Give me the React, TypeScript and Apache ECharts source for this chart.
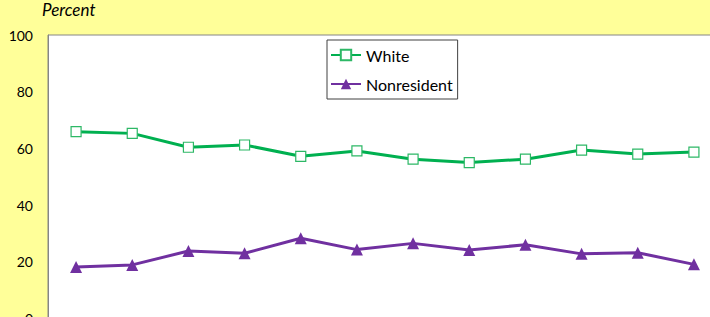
import React, { useEffect, useRef } from "react";
import * as echarts from "echarts";

const categories = ["1", "2", "3", "4", "5", "6", "7", "8", "9", "10", "11", "12"];
const whiteValues = [65.9, 65.3, 60.4, 61.2, 57.2, 59.1, 56.2, 55.0, 56.2, 59.4, 58.0, 58.7];
const nonresidentValues = [18.2, 18.9, 23.8, 23.0, 28.3, 24.3, 26.5, 24.2, 26.0, 22.8, 23.2, 19.1];
const yTicks = { min: 0, max: 100, interval: 20 };

export default function App() {
  const ref = useRef<HTMLDivElement>(null);
  useEffect(() => {
    if (!ref.current) return;
    const chart = echarts.init(ref.current, null, { renderer: "svg" });
    const font = "Lato, 'Open Sans', sans-serif";
    chart.setOption({
      animation: false,
      backgroundColor: "#FFFF99",
      textStyle: { fontFamily: font },
      grid: {
        left: 48,
        top: 35,
        width: 674,
        height: 283.5,
        show: true,
        backgroundColor: "#ffffff",
        borderColor: "#868686",
        borderWidth: 1,
      },
      graphic: [
        {
          type: "text",
          left: 42,
          top: 1,
          style: { text: "Percent", font: "italic 17px " + font, fill: "#000" },
        },
      ],
      legend: {
        orient: "vertical",
        left: 327,
        top: 40,
        backgroundColor: "#ffffff",
        borderColor: "#404040",
        borderWidth: 1,
        padding: [7, 5, 7, 3],
        itemGap: 13,
        itemWidth: 30,
        itemHeight: 13,
        textStyle: { fontSize: 16, color: "#000", fontFamily: font },
        data: ["White", "Nonresident"],
      },
      xAxis: {
        type: "category",
        data: categories,
        boundaryGap: true,
        axisLine: { show: false },
        axisTick: { show: false },
        axisLabel: { show: false },
        splitLine: { show: false },
      },
      yAxis: {
        type: "value",
        min: yTicks.min,
        max: yTicks.max,
        interval: yTicks.interval,
        axisLine: { show: true, lineStyle: { color: "#868686" } },
        axisTick: { show: false },
        splitLine: { show: false },
        axisLabel: { color: "#000", fontSize: 14, margin: 15, fontFamily: font },
      },
      series: [
        {
          name: "White",
          type: "line",
          data: whiteValues,
          symbol: "rect",
          symbolSize: 10,
          itemStyle: { color: "#ffffff", borderColor: "#2DB866", borderWidth: 1.2 },
          lineStyle: { color: "#00B050", width: 3 },
          color: "#00B050",
        },
        {
          name: "Nonresident",
          type: "line",
          data: nonresidentValues,
          symbol: "triangle",
          symbolSize: 12,
          itemStyle: { color: "#7030A0" },
          lineStyle: { color: "#7030A0", width: 3 },
          color: "#7030A0",
        },
      ],
    });
    return () => chart.dispose();
  }, []);
  return (
    <div
      ref={ref}
      style={{ position: "absolute", left: 0, top: 0, width: 740, height: 350 }}
    />
  );
}
